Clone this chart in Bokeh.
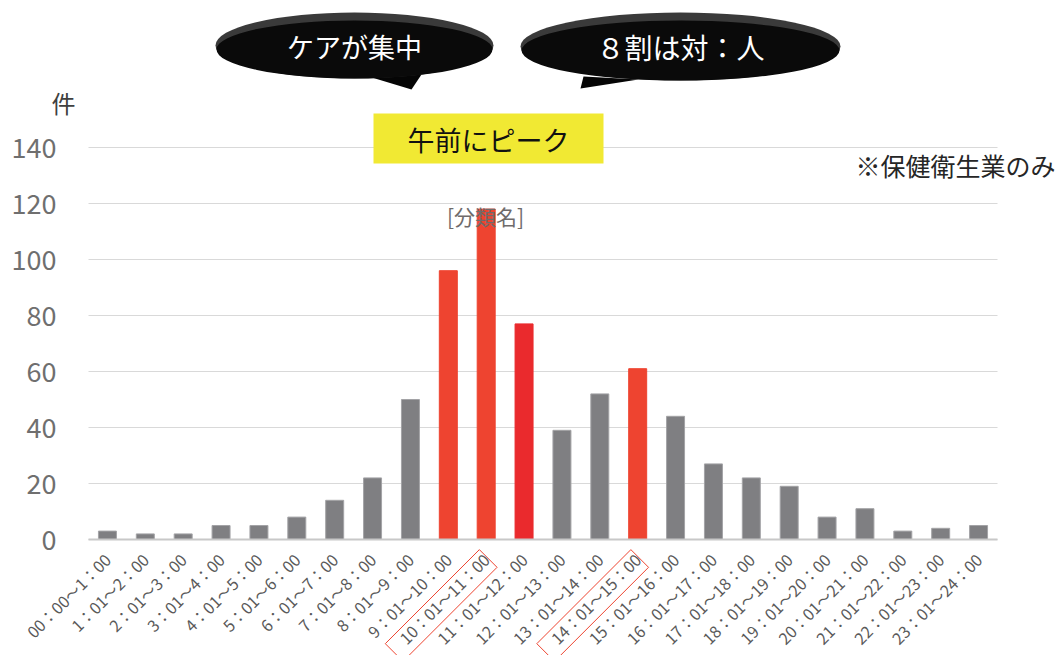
import math
from bokeh.plotting import figure
from bokeh.models import ColumnDataSource, Range1d, FixedTicker, Label
from bokeh.embed import file_html
from bokeh.resources import INLINE

# ---------------- data ----------------
categories = [
    "00：00～1：00", "1：01～2：00", "2：01～3：00", "3：01～4：00",
    "4：01～5：00", "5：01～6：00", "6：01～7：00", "7：01～8：00",
    "8：01～9：00", "9：01～10：00", "10：01～11：00", "11：01～12：00",
    "12：01～13：00", "13：01～14：00", "14：01～15：00", "15：01～16：00",
    "16：01～17：00", "17：01～18：00", "18：01～19：00", "19：01～20：00",
    "20：01～21：00", "21：01～22：00", "22：01～23：00", "23：01～24：00",
]
counts = [3, 2, 2, 5, 5, 8, 14, 22, 50, 96, 118, 77,
          39, 52, 61, 44, 27, 22, 19, 8, 11, 3, 4, 5]
peak_categories = ["9：01～10：00", "10：01～11：00", "14：01～15：00"]
strong_category = ["11：01～12：00"]
boxed_labels = ["10：01～11：00", "14：01～15：00"]
y_ticks = [0, 20, 40, 60, 80, 100, 120, 140]

FONT = "Noto Sans CJK JP"
GRAY = "#7f7f82"
RED = "#ee4430"
RED2 = "#ea2a2d"

# ---------------- layout geometry (pixels) ----------------
W, H = 1062, 655
LEFT_PX, RIGHT_PX = 88, 997   # plot area of the bars
ZERO_PX = 539                 # pixel row of y = 0
PX_PER_UNIT = 2.8
PX_PER_CAT = (RIGHT_PX - LEFT_PX) / len(categories)
x_start = -LEFT_PX / PX_PER_CAT
x_end = (W - LEFT_PX) / PX_PER_CAT
y_start = -(H - ZERO_PX) / PX_PER_UNIT
y_end = ZERO_PX / PX_PER_UNIT


def dx(px):
    return (px - LEFT_PX) / PX_PER_CAT


def dy(py):
    return (ZERO_PX - py) / PX_PER_UNIT


positions = [i + 0.5 for i in range(len(categories))]
colors, lines = [], []
for c in categories:
    if c in strong_category:
        colors.append(RED2); lines.append(RED2)
    elif c in peak_categories:
        colors.append(RED); lines.append(RED)
    else:
        colors.append(GRAY); lines.append("#a3a3a6")

source = ColumnDataSource(dict(x=positions, cat=categories, val=counts,
                               color=colors, line=lines))

p = figure(width=W, height=H, x_range=Range1d(x_start, x_end),
           y_range=Range1d(y_start, y_end),
           output_backend="svg", toolbar_location=None,
           min_border=0)
p.outline_line_color = None
p.background_fill_color = "white"
p.border_fill_color = "white"

# gridlines (only across the bar area)
n = len(categories)
p.xgrid.visible = False
p.ygrid.ticker = FixedTicker(ticks=y_ticks)
p.ygrid.grid_line_color = "#d9d9d9"
p.ygrid.grid_line_width = 1
try:
    p.ygrid.cross_bounds = (0, n)
except Exception:
    p.ygrid.visible = False
    p.segment(x0=[0] * len(y_ticks), x1=[n] * len(y_ticks), y0=y_ticks, y1=y_ticks,
              line_color="#d9d9d9", line_width=1)

# bars
p.vbar(x="x", top="val", width=0.475, source=source,
       fill_color="color", line_color="line", line_width=1)

# y axis at x = 0 (left edge of the bar area)
p.yaxis.fixed_location = 0
p.yaxis.ticker = FixedTicker(ticks=y_ticks)
p.yaxis.axis_line_color = None
p.yaxis.major_tick_line_color = None
p.yaxis.minor_tick_line_color = None
p.yaxis.major_tick_out = 0
p.yaxis.major_label_standoff = 32
p.yaxis.major_label_text_font = FONT
p.yaxis.major_label_text_font_size = "27px"
p.yaxis.major_label_text_color = "#6f6f6f"

# x axis at y = 0
p.xaxis.fixed_location = 0
p.xaxis.bounds = (0, n)
p.xaxis.ticker = FixedTicker(ticks=positions)
p.xaxis.major_label_overrides = {pos: c for pos, c in zip(positions, categories)}
p.xaxis.axis_line_color = "#c8c8c8"
p.xaxis.axis_line_width = 2
p.xaxis.major_tick_line_color = None
p.xaxis.minor_tick_line_color = None
p.xaxis.major_tick_out = 0
p.xaxis.major_label_orientation = math.pi / 4
p.xaxis.major_label_standoff = 17
p.xaxis.major_label_text_font = FONT
p.xaxis.major_label_text_font_size = "16px"
p.xaxis.major_label_text_color = "#595959"

# red frames around two tick labels (rotated rectangles, built in pixel space)
box_xs, box_ys = [], []
L, S = 133, 25
ca, sa = math.cos(math.pi / 4), math.sin(math.pi / 4)
for b in boxed_labels:
    cx = LEFT_PX + (categories.index(b) + 0.5) * PX_PER_CAT - 45
    cy = 605
    xs, ys = [], []
    for u, v in [(-L / 2, -S / 2), (L / 2, -S / 2), (L / 2, S / 2), (-L / 2, S / 2), (-L / 2, -S / 2)]:
        px = cx + u * ca - v * sa
        py = cy - (u * sa + v * ca)
        xs.append(dx(px)); ys.append(dy(py))
    box_xs.append(xs); box_ys.append(ys)
p.multi_line(xs=box_xs, ys=box_ys, line_color="#ee4430", line_width=1)

# speech bubbles (dark grey rim on top fading into black)
p.patch(x=[dx(368), dx(411), dx(421)], y=[dy(76), dy(89), dy(74)],
        fill_color="#050505", line_color=None)
p.ellipse(x=[dx(354)], y=[dy(45)], width=278, height=66,
          width_units="screen", height_units="screen",
          fill_color="#3a3a3a", line_color=None)
p.ellipse(x=[dx(354)], y=[dy(49)], width=276, height=58,
          width_units="screen", height_units="screen",
          fill_color="#0a0a0a", line_color=None)
p.patch(x=[dx(583), dx(580), dx(638)], y=[dy(76), dy(88), dy(79)],
        fill_color="#050505", line_color=None)
p.ellipse(x=[dx(680)], y=[dy(46)], width=320, height=68,
          width_units="screen", height_units="screen",
          fill_color="#3a3a3a", line_color=None)
p.ellipse(x=[dx(680)], y=[dy(50)], width=318, height=60,
          width_units="screen", height_units="screen",
          fill_color="#0a0a0a", line_color=None)

# yellow box
p.quad(left=[dx(373)], right=[dx(603)], top=[dy(113)], bottom=[dy(163)],
       fill_color="#f1e933", line_color=None)


def label(px, py, text, size, color, align="center"):
    p.add_layout(Label(x=dx(px), y=dy(py), text=text, text_font=FONT,
                       text_font_size=size, text_color=color,
                       text_align=align, text_baseline="middle"))


label(354, 46, "ケアが集中", "27px", "white")
label(680, 46, "８割は対：人", "28px", "white")
label(488, 139, "午前にピーク", "27px", "#111111")
label(485, 215, "[分類名]", "21px", "#6f6b6b")
label(855, 164, "※保健衛生業のみ", "25px", "#262626", align="left")
label(63, 102, "件", "24px", "#404040")

open("out.html", "w").write(file_html(p, INLINE))
